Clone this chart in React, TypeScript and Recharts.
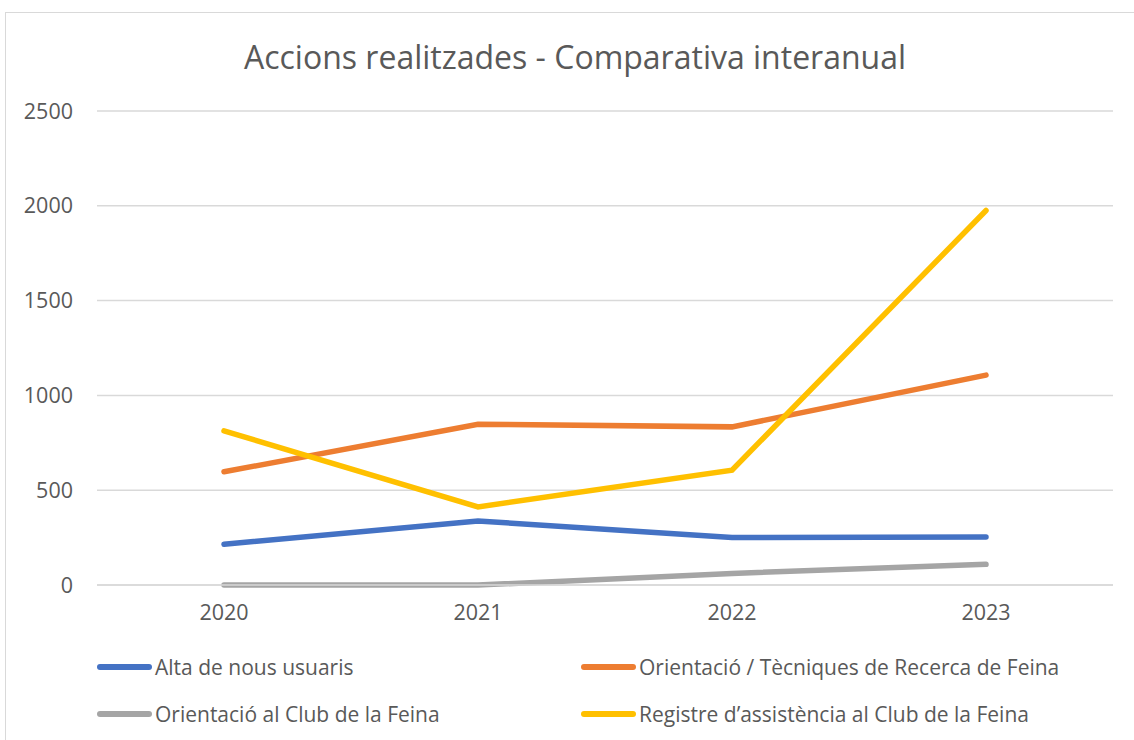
import { LineChart, Line, XAxis, YAxis, CartesianGrid } from 'recharts';

const years = ['2020', '2021', '2022', '2023'];
const altaNousUsuaris = [215, 338, 250, 253];
const orientacioTecniques = [597, 848, 834, 1107];
const orientacioClub = [0, 0, 61, 109];
const registreAssistencia = [813, 412, 606, 1975];
const yTicks = [0, 500, 1000, 1500, 2000, 2500];

const SERIES = [
  { key: 'alta', name: 'Alta de nous usuaris', color: '#4472C4' },
  { key: 'orient', name: 'Orientació / Tècniques de Recerca de Feina', color: '#ED7D31' },
  { key: 'club', name: 'Orientació al Club de la Feina', color: '#A5A5A5' },
  { key: 'registre', name: 'Registre d\u2019assistència al Club de la Feina', color: '#FFC000' },
];

const data = years.map((year, i) => ({
  year,
  alta: altaNousUsuaris[i],
  orient: orientacioTecniques[i],
  club: orientacioClub[i],
  registre: registreAssistencia[i],
}));

const FONT = '"Open Sans", "Noto Sans", sans-serif';
const TEXT = '#595959';

// legend slots: two columns, two rows
const LEGEND_POS = [
  { x: 97, y: 667 },
  { x: 581, y: 667 },
  { x: 97, y: 714 },
  { x: 581, y: 714 },
];

export default function App() {
  return (
    <div
      style={{
        position: 'fixed',
        left: 0,
        top: 0,
        width: 1134,
        height: 740,
        background: '#fff',
        fontFamily: FONT,
        overflow: 'hidden',
      }}
    >
      {/* chart frame */}
      <div
        style={{
          position: 'absolute',
          left: 5,
          top: 12,
          width: 1200,
          height: 800,
          border: '1px solid #d9d9d9',
        }}
      />
      <div
        style={{
          position: 'absolute',
          left: 0,
          width: 1150,
          top: 37,
          textAlign: 'center',
          fontSize: 32,
          color: TEXT,
          lineHeight: '40px',
        }}
      >
        Accions realitzades - Comparativa interanual
      </div>

      <div style={{ position: 'absolute', left: 0, top: 0 }}>
        <LineChart width={1134} height={740} data={data} margin={{ top: 111, right: 21, bottom: 125, left: 0 }}>
          <CartesianGrid vertical={false} stroke="#d9d9d9" strokeWidth={1.5} />
          <XAxis
            dataKey="year"
            height={30}
            padding={{ left: 127, right: 127 }}
            tickLine={false}
            tickSize={0}
            tickMargin={20}
            axisLine={{ stroke: '#d9d9d9', strokeWidth: 1.5 }}
            tick={{ fill: TEXT, fontSize: 21.5, fontFamily: FONT }}
          />
          <YAxis
            width={97}
            domain={[0, 2500]}
            ticks={yTicks}
            tickLine={false}
            axisLine={false}
            tickSize={0}
            tickMargin={24}
            tick={{ fill: TEXT, fontSize: 21.5, fontFamily: FONT }}
          />
          {SERIES.map((s) => (
            <Line
              key={s.key}
              dataKey={s.key}
              name={s.name}
              stroke={s.color}
              strokeWidth={5.5}
              strokeLinecap="round"
              dot={false}
              activeDot={false}
              isAnimationActive={false}
            />
          ))}
        </LineChart>
      </div>

      {SERIES.map((s, i) => (
        <div
          key={s.key}
          style={{
            position: 'absolute',
            left: LEGEND_POS[i].x,
            top: LEGEND_POS[i].y - 15,
            height: 30,
            display: 'flex',
            alignItems: 'center',
            fontSize: 21,
            color: TEXT,
            whiteSpace: 'nowrap',
          }}
        >
          <span
            style={{
              display: 'inline-block',
              width: 55,
              height: 5.5,
              borderRadius: 3,
              background: s.color,
              marginRight: 3,
            }}
          />
          {s.name}
        </div>
      ))}
    </div>
  );
}
